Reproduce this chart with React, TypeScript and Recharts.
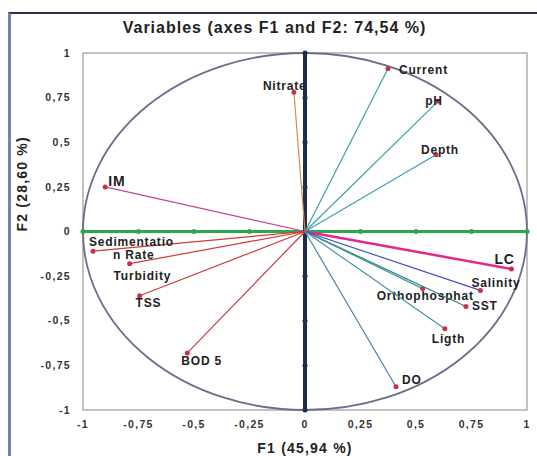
import { ReferenceArea, ReferenceDot, ReferenceLine, Scatter, ScatterChart, XAxis, YAxis } from "recharts"

// variable names and loadings on F1 / F2
const names = ["Current", "pH", "Depth", "Nitrate", "IM", "Sedimentation Rate", "Turbidity", "TSS", "BOD 5", "LC", "Salinity", "Orthophosphat", "SST", "Ligth", "DO"]
const f1 = [0.374, 0.6, 0.59, -0.05, -0.9, -0.955, -0.79, -0.745, -0.53, 0.93, 0.79, 0.53, 0.725, 0.63, 0.41]
const f2 = [0.913, 0.73, 0.43, 0.78, 0.25, -0.11, -0.18, -0.36, -0.68, -0.21, -0.33, -0.32, -0.42, -0.545, -0.87]
const ticks = [-1, -0.75, -0.5, -0.25, 0, 0.25, 0.5, 0.75, 1]

const lineColors: Record<string, string> = {
  Current: "#3a9fae",
  pH: "#3a9fae",
  Depth: "#3a9fae",
  Nitrate: "#d98a4a",
  IM: "#c8409a",
  "Sedimentation Rate": "#d23a3a",
  Turbidity: "#d23a3a",
  TSS: "#d23a3a",
  "BOD 5": "#d23a3a",
  LC: "#e2288c",
  Salinity: "#4050c0",
  Orthophosphat: "#3a9a9a",
  SST: "#2f7f88",
  Ligth: "#4a90a8",
  DO: "#4f7fa8",
}

// label offsets (px) from the vector tip
const labelPos: Record<string, { dx: number; dy: number; bold?: boolean }> = {
  Current: { dx: 11, dy: 1 },
  pH: { dx: -13, dy: 0 },
  Depth: { dx: -15, dy: -5 },
  Nitrate: { dx: -31, dy: -6 },
  IM: { dx: 3, dy: -6, bold: true },
  "Sedimentation Rate": { dx: -4, dy: -9 },
  Turbidity: { dx: -16, dy: 12 },
  TSS: { dx: -4, dy: 7 },
  "BOD 5": { dx: -6, dy: 8 },
  LC: { dx: -17, dy: -10, bold: true },
  Salinity: { dx: -9, dy: -7 },
  Orthophosphat: { dx: -46, dy: 7 },
  SST: { dx: 6, dy: 0 },
  Ligth: { dx: -13, dy: 10 },
  DO: { dx: 6, dy: -7 },
}

const fmt = (v: number) => String(v).replace(".", ",")
const font = "'Liberation Sans', Arial, sans-serif"
const tickStyle = { fontSize: 10.5, fontWeight: "bold", fill: "#333", fontFamily: font, letterSpacing: 1.3 }

function Tip(props: any) {
  const { cx, cy, payload } = props
  if (!payload || (payload.x === 0 && payload.y === 0)) return <g />
  const p = labelPos[payload.name]
  const lines = payload.name === "Sedimentation Rate" ? ["Sedimentatio", "n Rate"] : [payload.name]
  return (
    <g>
      <circle cx={cx} cy={cy} r={2.5} fill="#c8304a" />
      {lines.map((t, i) => (
        <text
          key={i}
          x={cx + p.dx + (i === 1 ? 24 : 0)}
          y={cy + p.dy + i * 13}
          dominantBaseline="central"
          fontFamily={font}
          fontSize={p.bold ? 14 : 12}
          fontWeight="bold"
          letterSpacing={0.8}
          fill="#222"
        >
          {t}
        </text>
      ))}
    </g>
  )
}

function Frame(props: any) {
  const { x, y, width, height } = props
  return (
    <g>
      <rect x={x} y={y} width={width} height={height} fill="none" stroke="#999" strokeWidth={1.2} />
      <ellipse cx={x + width / 2} cy={y + height / 2} rx={width / 2} ry={height / 2} fill="none" stroke="#6c6c8c" strokeWidth={1.8} />
    </g>
  )
}

export default function App() {
  return (
    <div style={{ position: "absolute", left: 0, top: 0, width: 537, height: 456, background: "#fff" }}>
      <div style={{ position: "absolute", left: 8, top: 12, width: 529, height: 444, borderLeft: "3px solid #7383ab", borderTop: "2px solid #27324e" }} />
      <div style={{ position: "absolute", left: 0, top: 19, width: 537, textAlign: "center", fontFamily: font, fontWeight: "bold", fontSize: 16, letterSpacing: 1, color: "#222", paddingLeft: 12, boxSizing: "border-box" }}>
        Variables (axes F1 and F2: 74,54 %)
      </div>
      <div style={{ position: "absolute", left: 0, top: 0 }}>
        <ScatterChart width={537} height={456} margin={{ top: 53, right: 10, bottom: 16, left: 23 }}>
          <XAxis
            type="number"
            dataKey="x"
            domain={[-1, 1]}
            ticks={ticks}
            tickFormatter={fmt}
            axisLine={false}
            tickLine={false}
            height={30}
            tick={{ ...tickStyle, dy: 3 }}
            label={{ value: "F1 (45,94 %)", position: "insideBottom", offset: -13, fontSize: 14, fontWeight: "bold", letterSpacing: 1.2, fill: "#222", fontFamily: font }}
          />
          <YAxis
            type="number"
            dataKey="y"
            domain={[-1, 1]}
            ticks={ticks}
            tickFormatter={fmt}
            axisLine={false}
            tickLine={false}
            width={60}
            tick={{ ...tickStyle, dx: -4 }}
            label={{ value: "F2 (28,60 %)", angle: -90, position: "insideLeft", offset: -1, fontSize: 14, fontWeight: "bold", letterSpacing: 1.2, fill: "#222", fontFamily: font }}
          />
          <ReferenceArea x1={-1} x2={1} y1={-1} y2={1} shape={<Frame />} ifOverflow="visible" />
          <ReferenceLine y={0} stroke="#2aa84a" strokeWidth={3} />
          <ReferenceLine x={0} stroke="#1f2d4a" strokeWidth={4} />
          {ticks.map((t) => (
            <ReferenceDot key={"gx" + t} x={t} y={0} r={2.5} fill="#2aa84a" stroke="none" ifOverflow="visible" />
          ))}
          {ticks.map((t) => (
            <ReferenceDot key={"gy" + t} x={0} y={t} r={2.5} fill="#1f2d4a" stroke="none" ifOverflow="visible" />
          ))}
          {names.map((n, i) => (
            <Scatter
              key={n}
              name={n}
              data={[
                { x: 0, y: 0, name: n },
                { x: f1[i], y: f2[i], name: n },
              ]}
              line={{ stroke: lineColors[n], strokeWidth: n === "LC" ? 2.5 : 1.2 }}
              shape={<Tip />}
              isAnimationActive={false}
            />
          ))}
        </ScatterChart>
      </div>
    </div>
  )
}
